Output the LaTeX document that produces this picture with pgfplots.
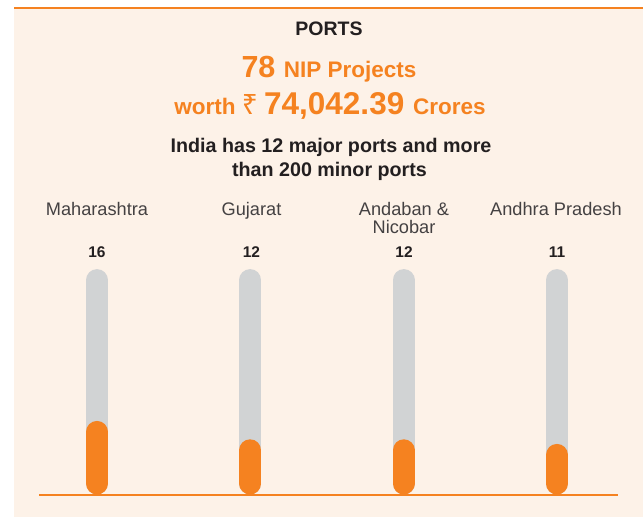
\documentclass[border=0pt]{standalone}
\usepackage{fontspec}
\setmainfont{Liberation Sans}
\newfontfamily\rupeefont{Noto Sans}
\usepackage{pgfplots}
\pgfplotsset{compat=1.18}
\definecolor{bgpeach}{HTML}{FDF2E8}
\definecolor{nipor}{HTML}{F58220}
\definecolor{track}{HTML}{D1D3D4}
\definecolor{ink}{HTML}{231F20}
\begin{document}
\begin{tikzpicture}
\useasboundingbox (0,0) rectangle (643pt,517pt);
\fill[white] (0,0) rectangle (643pt,517pt);
\fill[bgpeach] (14pt,0) rectangle (643pt,508pt);
\draw[nipor, line width=2.5pt] (14pt,509.2pt) -- (643pt,509.2pt);
\begin{axis}[at={(0,0)}, anchor=south west, scale only axis,
  width=643pt, height=517pt,
  xmin=-0.633, xmax=3.562, ymin=-4.89, ymax=107.5,
  hide axis, clip=false]
% grey tracks (full scale)
\addplot[track, line width=22pt, line cap=round, shorten <=11pt, shorten >=11pt] coordinates {(0,0) (0,49)};
\addplot[track, line width=22pt, line cap=round, shorten <=11pt, shorten >=11pt] coordinates {(1,0) (1,49)};
\addplot[track, line width=22pt, line cap=round, shorten <=11pt, shorten >=11pt] coordinates {(2,0) (2,49)};
\addplot[track, line width=22pt, line cap=round, shorten <=11pt, shorten >=11pt] coordinates {(3,0) (3,49)};
% values
\addplot[nipor, line width=22pt, line cap=round, shorten <=11pt, shorten >=11pt] coordinates {(0,0) (0,16)};
\addplot[nipor, line width=22pt, line cap=round, shorten <=11pt, shorten >=11pt] coordinates {(1,0) (1,12)};
\addplot[nipor, line width=22pt, line cap=round, shorten <=11pt, shorten >=11pt] coordinates {(2,0) (2,12)};
\addplot[nipor, line width=22pt, line cap=round, shorten <=11pt, shorten >=11pt] coordinates {(3,0) (3,11)};
\end{axis}
\draw[nipor, line width=2.5pt] (39pt,22pt) -- (618pt,22pt);
% titles
\node[anchor=base, text=ink, font=\fontsize{19.5}{20}\selectfont\bfseries] at (329pt,481.3pt) {PORTS};
\node[anchor=base, text=nipor, inner sep=0pt] at (329pt,439.7pt)
  {\fontsize{30.5}{31}\selectfont\bfseries 78 \fontsize{22.5}{23}\selectfont NIP Projects};
\node[anchor=base, text=nipor, inner sep=0pt] at (330pt,402.5pt)
  {\fontsize{22.5}{23}\selectfont\bfseries worth {\rupeefont\fontsize{28}{29}\selectfont ₹} \fontsize{31.5}{32}\selectfont 74,042.39 \fontsize{22.5}{23}\selectfont Crores};
\node[anchor=base, text=ink, font=\fontsize{19.7}{20}\selectfont\bfseries, inner sep=0pt] at (331pt,364.7pt) {India has 12 major ports and more};
\node[anchor=base, text=ink, font=\fontsize{19.7}{20}\selectfont\bfseries, inner sep=0pt] at (329.5pt,340.3pt) {than 200 minor ports};
% category labels
\foreach \xx/\lab in {97/Maharashtra, 251.5/Gujarat, 556/Andhra Pradesh}
  \node[anchor=base, text=ink!85, font=\fontsize{18.2}{19}\selectfont, inner sep=0pt] at (\xx pt,301.3pt) {\lab};
\node[anchor=base, text=ink!85, font=\fontsize{18.2}{19}\selectfont, inner sep=0pt] at (404pt,301.3pt) {Andaban \&};
\node[anchor=base, text=ink!85, font=\fontsize{18.2}{19}\selectfont, inner sep=0pt] at (404pt,283.3pt) {Nicobar};
% value labels
\foreach \xx/\v in {97/16, 251.5/12, 404/12, 557/11}
  \node[anchor=base, text=ink, font=\fontsize{15.5}{16}\selectfont\bfseries, inner sep=0pt] at (\xx pt,259.3pt) {\v};
\end{tikzpicture}
\end{document}
